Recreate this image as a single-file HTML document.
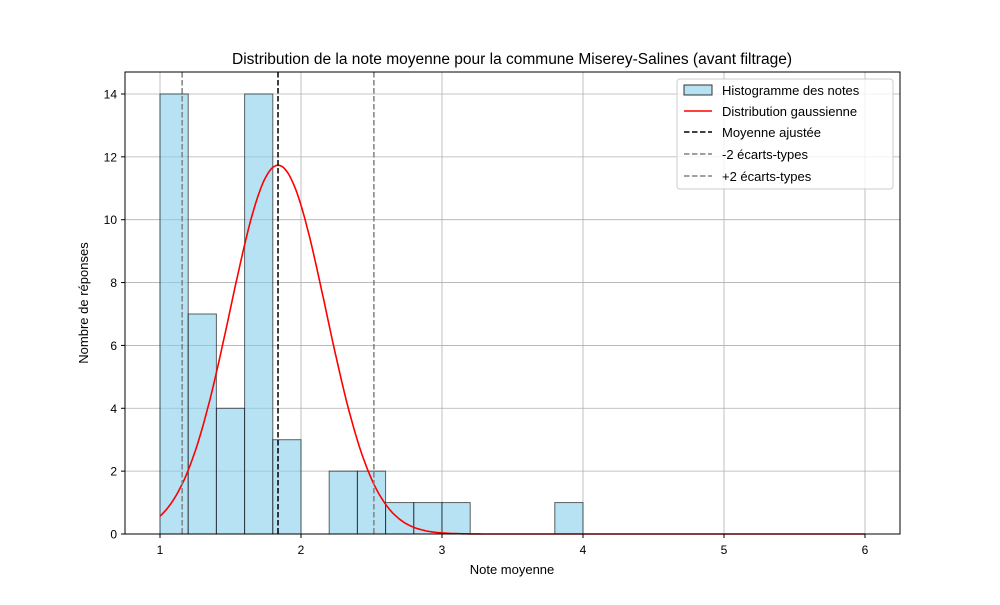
<!DOCTYPE html>
<html><head><meta charset="utf-8"><style>
body{margin:0;background:#fff;}
svg text{font-family:"Liberation Sans","DejaVu Sans",sans-serif;}
</style></head><body>
<svg id="chart" width="1000" height="600" xmlns="http://www.w3.org/2000/svg">
<rect width="1000" height="600" fill="#fff"/>
<g id="grid"></g>
<g id="bars"></g>
<g id="lines"></g>
<rect x="125" y="72" width="775" height="462" fill="none" stroke="#000" stroke-width="1"/>
<g id="ticks"></g>
<text x="512" y="64" font-size="15.5" text-anchor="middle">Distribution de la note moyenne pour la commune Miserey-Salines (avant filtrage)</text>
<text x="512" y="574" font-size="13" text-anchor="middle">Note moyenne</text>
<text x="88" y="303" font-size="13" text-anchor="middle" transform="rotate(-90 88 303)">Nombre de réponses</text>
<g>
<rect x="677" y="79" width="216" height="110" fill="#fff" fill-opacity="0.8" stroke="#ccc" rx="3"/>
<rect x="684" y="85" width="28" height="10" fill="#87ceeb" fill-opacity="0.6" stroke="#333"/>
<text x="722" y="95" font-size="13">Histogramme des notes</text>
<line x1="684" y1="111" x2="712" y2="111" stroke="red" stroke-width="1.5"/>
<text x="722" y="116" font-size="13">Distribution gaussienne</text>
<line x1="684" y1="132" x2="712" y2="132" stroke="#000" stroke-width="1.5" stroke-dasharray="5.5,2.5"/>
<text x="722" y="137" font-size="13">Moyenne ajustée</text>
<line x1="684" y1="154" x2="712" y2="154" stroke="gray" stroke-width="1.5" stroke-dasharray="5.5,2.5"/>
<text x="722" y="159" font-size="13">-2 écarts-types</text>
<line x1="684" y1="176" x2="712" y2="176" stroke="gray" stroke-width="1.5" stroke-dasharray="5.5,2.5"/>
<text x="722" y="181" font-size="13">+2 écarts-types</text>
</g>
</svg>
<script>
const binStarts=[1.0,1.2,1.4,1.6,1.8,2.0,2.2,2.4,2.6,2.8,3.0,3.2,3.4,3.6,3.8];
const counts=[14,7,4,14,3,0,2,2,1,1,1,0,0,0,1];
const binWidth=0.2;
const mean=1.837;
const sigma=0.34;
const xTicks=[1,2,3,4,5,6];
const yTicks=[0,2,4,6,8,10,12,14];
const NS="http://www.w3.org/2000/svg";
const X=v=>160+(v-1)*141;
const Y=v=>534-v*31.43;
function mk(t,a,p){const e=document.createElementNS(NS,t);for(const k in a)e.setAttribute(k,a[k]);p.appendChild(e);return e;}
const g=document.getElementById('grid'),b=document.getElementById('bars'),l=document.getElementById('lines'),tk=document.getElementById('ticks');
xTicks.forEach(v=>{
 const ln=mk('line',{x1:X(v),x2:X(v),y1:72,y2:534,stroke:'#b0b0b0','stroke-width':0.8},g);
 
 
 mk('line',{x1:X(v),x2:X(v),y1:534,y2:538,stroke:'#000'},tk);
 const t=mk('text',{x:X(v),y:554,'font-size':12,'text-anchor':'middle'},tk);t.textContent=v;
 
 
});
yTicks.forEach(v=>{
 const ln=mk('line',{x1:125,x2:900,y1:Y(v),y2:Y(v),stroke:'#b0b0b0','stroke-width':0.8},g);
 
 
 mk('line',{x1:121,x2:125,y1:Y(v),y2:Y(v),stroke:'#000'},tk);
 const t=mk('text',{x:117,y:Y(v)+4.5,'font-size':12,'text-anchor':'end'},tk);t.textContent=v;
 
 
});
binStarts.forEach((s,i)=>{
 if(!counts[i])return;
 const r=mk('rect',{x:X(s),y:Y(counts[i]),width:X(s+binWidth)-X(s),height:Y(0)-Y(counts[i]),fill:'#87ceeb','fill-opacity':0.6,stroke:'#000','stroke-opacity':0.6,'stroke-width':1},b);
 
 
});
const total=counts.reduce((a,c)=>a+c,0);
let d='';
for(let i=0;i<=500;i++){const x=1+5*i/500;const y=total*binWidth/(sigma*Math.sqrt(2*Math.PI))*Math.exp(-0.5*((x-mean)/sigma)**2);d+=(i?'L':'M')+X(x).toFixed(1)+','+Y(y).toFixed(1);}
const c=mk('path',{d:d,fill:'none',stroke:'red','stroke-width':1.6},l);


[[mean,'#000','mean-line'],[mean-2*sigma,'gray','minus-2sd-line'],[mean+2*sigma,'gray','plus-2sd-line']].forEach(([v,col,n])=>{
 const e=mk('line',{x1:X(v),x2:X(v),y1:72,y2:534,stroke:col,'stroke-width':1.5,'stroke-dasharray':'5.5,2.5'},l);
 
 
});
</script>
</body></html>
